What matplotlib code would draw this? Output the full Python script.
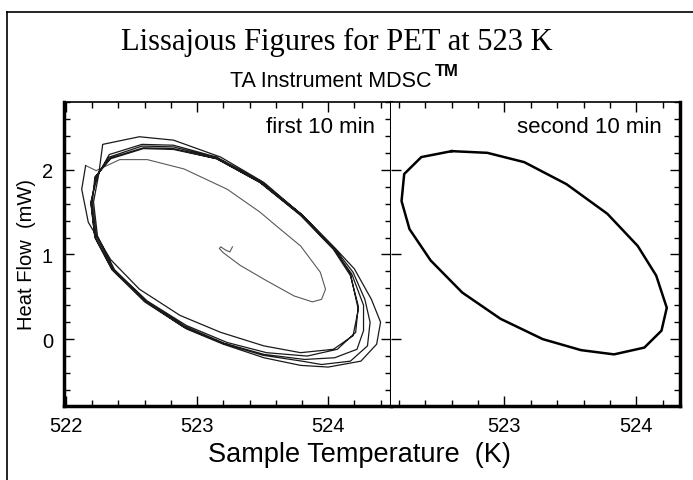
import numpy as np
import matplotlib
matplotlib.use("Agg")
import matplotlib.pyplot as plt
from matplotlib.lines import Line2D
from matplotlib.ticker import MultipleLocator

plt.rcParams['font.family'] = ['Liberation Sans', 'DejaVu Sans']

# first 10 min: start-up spiral from the centre
spiral_T = [523.27, 523.25, 523.22, 523.18, 523.17, 523.20, 523.33, 523.53, 523.74, 523.88,
            523.95, 523.98, 523.94, 523.79, 523.61, 523.48, 523.23, 522.90, 522.62, 522.41, 522.23]
spiral_Q = [1.09, 1.03, 1.05, 1.09, 1.07, 1.02, 0.87, 0.69, 0.51, 0.44,
            0.47, 0.59, 0.79, 1.10, 1.33, 1.50, 1.77, 2.01, 2.12, 2.12, 1.99]

# first 10 min: successive loops
loop1_T = [522.15, 522.12, 522.17, 522.34, 522.56, 522.87, 523.18, 523.51, 523.79, 524.04,
           524.19, 524.23, 524.17, 524.04, 523.79, 523.51, 523.18, 522.82, 522.56, 522.28]
loop1_Q = [2.05, 1.77, 1.38, 0.94, 0.59, 0.28, 0.08, -0.08, -0.16, -0.12,
           0.04, 0.35, 0.77, 1.08, 1.48, 1.85, 2.15, 2.35, 2.39, 2.30]

loop2_T = [522.25, 522.21, 522.24, 522.37, 522.62, 522.92, 523.20, 523.51, 523.79, 524.00, 524.25,
           524.37, 524.40, 524.33, 524.20, 524.05, 523.80, 523.49, 523.15, 522.82, 522.58, 522.33]
loop2_Q = [1.95, 1.62, 1.22, 0.82, 0.43, 0.12, -0.06, -0.22, -0.31, -0.33, -0.26,
           -0.06, 0.20, 0.47, 0.83, 1.08, 1.47, 1.86, 2.15, 2.29, 2.30, 2.18]

loop3_T = [522.24, 522.19, 522.22, 522.35, 522.60, 522.90, 523.20, 523.50, 523.80, 523.95, 524.17,
           524.30, 524.32, 524.28, 524.19, 524.05, 523.80, 523.48, 523.15, 522.82, 522.58, 522.33]
loop3_Q = [1.93, 1.62, 1.20, 0.82, 0.44, 0.14, -0.05, -0.19, -0.26, -0.30, -0.26,
           -0.08, 0.20, 0.47, 0.79, 1.07, 1.47, 1.86, 2.14, 2.27, 2.28, 2.15]

loop4_T = [522.23, 522.19, 522.22, 522.35, 522.61, 522.91, 523.21, 523.51, 523.82, 524.05, 524.22,
           524.27, 524.27, 524.18, 524.04, 523.79, 523.48, 523.15, 522.82, 522.59, 522.34]
loop4_Q = [1.92, 1.60, 1.21, 0.83, 0.45, 0.15, -0.05, -0.18, -0.24, -0.22, -0.12,
           0.10, 0.40, 0.77, 1.07, 1.47, 1.85, 2.13, 2.25, 2.26, 2.14]

loop5_T = [522.22, 522.20, 522.23, 522.36, 522.62, 522.92, 523.23, 523.53, 523.84, 524.07,
           524.21, 524.23, 524.17, 524.04, 523.79, 523.48, 523.15, 522.82, 522.59, 522.34, 522.22]
loop5_Q = [1.91, 1.61, 1.22, 0.83, 0.45, 0.16, -0.04, -0.16, -0.20, -0.12,
           0.08, 0.39, 0.75, 1.06, 1.46, 1.85, 2.13, 2.24, 2.25, 2.13, 1.91]

# second 10 min: steady loop
loopR_T = [522.60, 522.87, 523.15, 523.47, 523.78, 524.01, 524.15, 524.23, 524.19, 524.06, 523.83,
           523.58, 523.29, 522.97, 522.68, 522.44, 522.28, 522.22, 522.24, 522.37, 522.60]
loopR_Q = [2.22, 2.20, 2.09, 1.83, 1.48, 1.10, 0.75, 0.37, 0.10, -0.10, -0.18,
           -0.13, 0.00, 0.24, 0.55, 0.93, 1.30, 1.63, 1.95, 2.15, 2.22]

first_T = np.concatenate([loop1_T, loop2_T, loop3_T, loop4_T, loop5_T])
first_Q = np.concatenate([loop1_Q, loop2_Q, loop3_Q, loop4_Q, loop5_Q])

fig = plt.figure(figsize=(6.93, 4.81), dpi=100)
axL = fig.add_axes([0.0924, 0.1538, 0.4719, 0.6320])
axR = fig.add_axes([0.5642, 0.1538, 0.4170, 0.6320])

axL.plot(spiral_T, spiral_Q, color='0.35', lw=0.8)
axL.plot([spiral_T[-1], loop1_T[0]], [spiral_Q[-1], loop1_Q[0]], color='0.35', lw=0.8)
axL.plot(first_T, first_Q, color='0.1', lw=0.9)
axR.plot(loopR_T, loopR_Q, color='k', lw=1.8)

axL.set_xlim(521.985, 524.48)
axR.set_xlim(522.14, 524.33)

for ax in (axL, axR):
    ax.set_ylim(-0.79, 2.80)
    ax.xaxis.set_major_locator(MultipleLocator(1))
    ax.xaxis.set_minor_locator(MultipleLocator(0.2))
    ax.yaxis.set_major_locator(MultipleLocator(1))
    ax.yaxis.set_minor_locator(MultipleLocator(0.2))
    ax.tick_params(which='both', direction='in', top=True, right=True, width=1, labelsize=14.5)
    ax.tick_params(which='major', length=7)
    ax.tick_params(which='minor', length=4)
    ax.tick_params(axis='x', which='major', pad=7)
    ax.tick_params(axis='y', which='major', pad=8)
    ax.spines['bottom'].set_linewidth(2.5)
    ax.spines['top'].set_linewidth(1.2)
    ax.spines['left'].set_linewidth(2.5)

axL.spines['right'].set_linewidth(2.2)
axR.spines['right'].set_linewidth(2.5)
axR.spines['left'].set_visible(False)
axR.tick_params(which='major', left=True, labelleft=False)
axR.tick_params(which='minor', left=False)

axL.text(0.951, 0.901, 'first 10 min', transform=axL.transAxes, ha='right', va='baseline', fontsize=16)
axR.text(0.938, 0.901, 'second 10 min', transform=axR.transAxes, ha='right', va='baseline', fontsize=16)

fig.text(27 / 693, 1 - 254 / 481, 'Heat Flow  (mW)', rotation=90, ha='center', va='center', fontsize=14.5)
fig.text(0.519, 0.054, 'Sample Temperature  (K)', ha='center', va='center', fontsize=19.5)
fig.text(337 / 693, 1 - 50 / 481, 'Lissajous Figures for PET at 523 K', ha='center', va='baseline',
         family='Liberation Serif', fontsize=22)
fig.text(432 / 693, 1 - 87 / 481, 'TA Instrument MDSC', ha='right', va='baseline', fontsize=15.5)
fig.text(435 / 693, 1 - 76 / 481, 'TM', ha='left', va='baseline', fontsize=12, fontweight='bold')

# frame of the scanned figure
fig.add_artist(Line2D([0.0101, 1.0], [0.973, 0.973], transform=fig.transFigure, color='k', lw=1.2))
fig.add_artist(Line2D([0.0101, 0.0101], [0.973, 0.0], transform=fig.transFigure, color='k', lw=1.2))

fig.savefig('out.png', dpi=100)
